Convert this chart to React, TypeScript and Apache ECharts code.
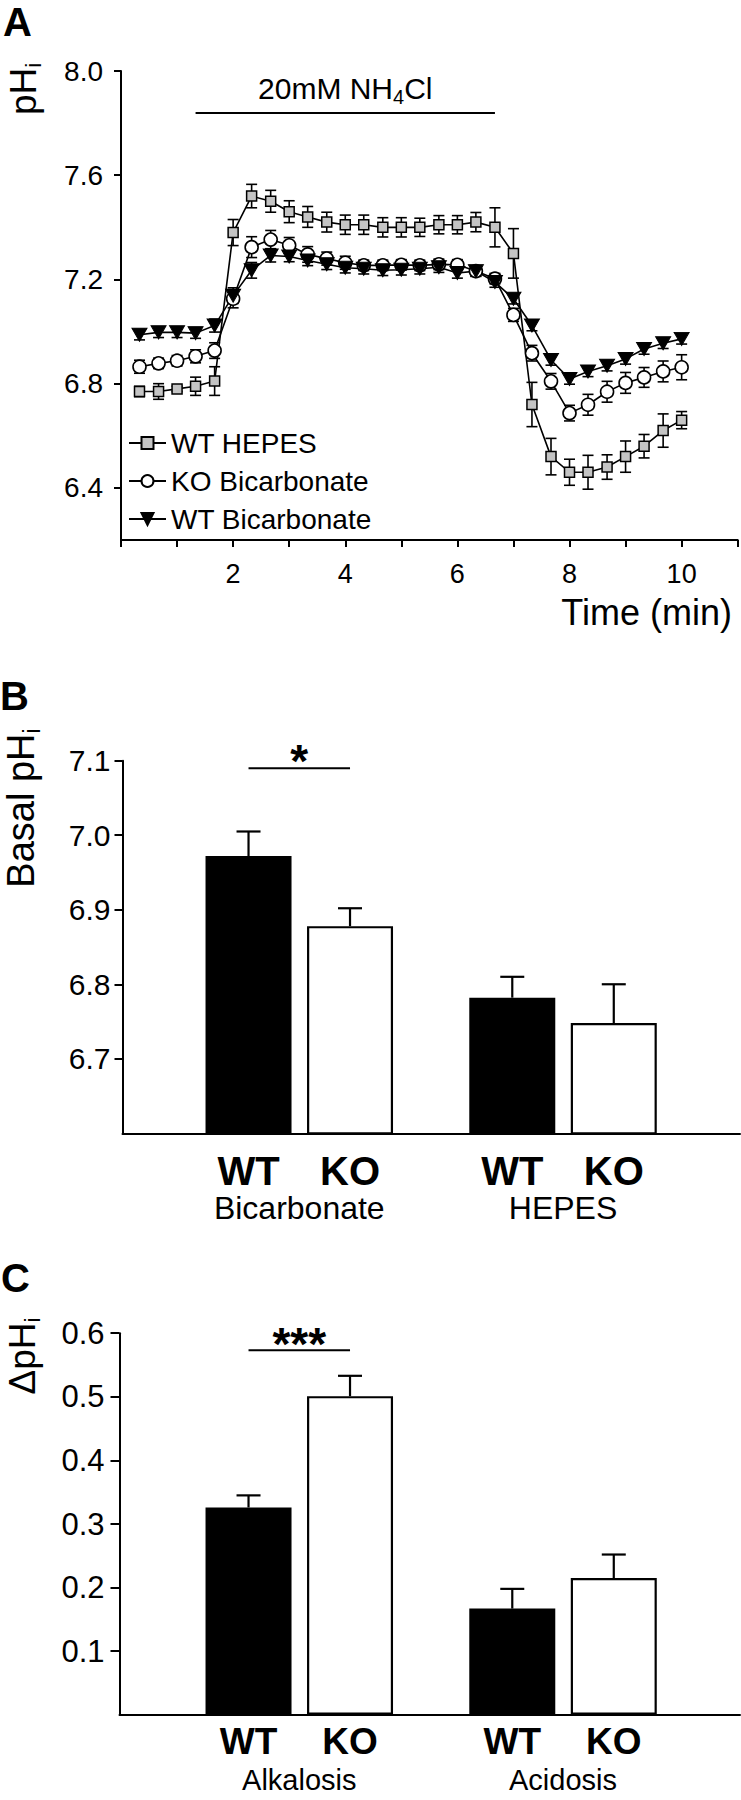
import React, { useEffect, useRef } from 'react';
import * as echarts from 'echarts';

const FONT = '"Liberation Sans", Arial, Helvetica, sans-serif';

// ---------------- Panel A data ----------------
const TIME_MIN = [0.33, 0.67, 1.0, 1.33, 1.67, 2.0, 2.33, 2.67, 3.0, 3.33, 3.67, 4.0, 4.33, 4.67, 5.0, 5.33, 5.67, 6.0, 6.33, 6.67, 7.0, 7.33, 7.67, 8.0, 8.33, 8.67, 9.0, 9.33, 9.67, 10.0];
const WT_HEPES = [6.77, 6.77, 6.78, 6.79, 6.81, 7.38, 7.52, 7.5, 7.46, 7.44, 7.42, 7.41, 7.41, 7.4, 7.4, 7.4, 7.41, 7.41, 7.42, 7.4, 7.3, 6.72, 6.52, 6.46, 6.46, 6.48, 6.52, 6.56, 6.62, 6.66];
const WT_HEPES_ERR = [0.02, 0.03, 0.01, 0.035, 0.055, 0.05, 0.045, 0.042, 0.042, 0.04, 0.038, 0.037, 0.037, 0.037, 0.037, 0.035, 0.035, 0.035, 0.037, 0.075, 0.095, 0.085, 0.07, 0.05, 0.065, 0.047, 0.06, 0.045, 0.064, 0.033];
const KO_BIC = [6.865, 6.878, 6.888, 6.905, 6.927, 7.126, 7.324, 7.353, 7.331, 7.296, 7.28, 7.264, 7.254, 7.254, 7.256, 7.254, 7.258, 7.256, 7.232, 7.203, 7.064, 6.917, 6.809, 6.687, 6.719, 6.769, 6.803, 6.824, 6.847, 6.863];
const KO_BIC_ERR = [0.025, 0.02, 0.02, 0.025, 0.03, 0.035, 0.04, 0.035, 0.03, 0.03, 0.025, 0.025, 0.02, 0.02, 0.02, 0.02, 0.02, 0.02, 0.02, 0.02, 0.025, 0.03, 0.03, 0.03, 0.04, 0.04, 0.04, 0.038, 0.04, 0.048];
const WT_BIC = [6.988, 6.997, 6.997, 6.994, 7.023, 7.138, 7.235, 7.292, 7.288, 7.273, 7.258, 7.245, 7.241, 7.235, 7.237, 7.241, 7.247, 7.225, 7.232, 7.19, 7.126, 7.023, 6.891, 6.818, 6.847, 6.869, 6.895, 6.933, 6.955, 6.972];
const WT_BIC_ERR = [0.02, 0.02, 0.02, 0.02, 0.025, 0.03, 0.03, 0.025, 0.02, 0.02, 0.02, 0.02, 0.02, 0.02, 0.02, 0.02, 0.02, 0.02, 0.02, 0.02, 0.02, 0.02, 0.02, 0.02, 0.02, 0.02, 0.02, 0.02, 0.02, 0.02];
const A_SERIES_NAMES = ['WT HEPES', 'KO Bicarbonate', 'WT Bicarbonate'];
const A_X_MIN = 0;
const A_X_MAX = 11;
const A_Y_MIN = 6.2;
const A_Y_MAX = 8.0;
const A_Y_TICKS = [6.4, 6.8, 7.2, 7.6, 8.0];
const NH4_START = 1.33;
const NH4_END = 6.67;
const NH4_LEVEL = 7.84;

// ---------------- Panel B data ----------------
const B_GROUPS = ['Bicarbonate', 'HEPES'];
const B_WT = [6.972, 6.782];
const B_WT_ERR = [0.033, 0.028];
const B_KO = [6.878, 6.748];
const B_KO_ERR = [0.024, 0.052];
const B_Y_MIN = 6.6;
const B_Y_MAX = 7.1;
const B_Y_TICKS = [6.7, 6.8, 6.9, 7.0, 7.1];
const B_SIG_LEVEL = 7.09;
const B_SIG_TEXT = '*';

// ---------------- Panel C data ----------------
const C_GROUPS = ['Alkalosis', 'Acidosis'];
const C_WT = [0.326, 0.167];
const C_WT_ERR = [0.019, 0.031];
const C_KO = [0.501, 0.215];
const C_KO_ERR = [0.032, 0.037];
const C_Y_MIN = 0;
const C_Y_MAX = 0.6;
const C_Y_TICKS = [0.1, 0.2, 0.3, 0.4, 0.5, 0.6];
const C_SIG_LEVEL = 0.573;
const C_SIG_TEXT = '***';

const BAR_NAMES = ['WT', 'KO'];

// ---------------- styling constants ----------------
const BAR_W = 86;
const BAR_GAP_PX = 15.5;
const BAR_OFFSET = (BAR_W + BAR_GAP_PX) / 2;

export default function App() {
  const ref = useRef<HTMLDivElement>(null);

  useEffect(() => {
    if (!ref.current) return;
    const chart = echarts.init(ref.current, undefined, { renderer: 'svg' });

    const errSeriesA = (vals: number[], errs: number[]) => ({
      type: 'custom',
      xAxisIndex: 0,
      yAxisIndex: 0,
      z: 1,
      silent: true,
      encode: { x: 0, y: 1 },
      data: TIME_MIN.map((t, i) => [t, vals[i], errs[i]]),
      renderItem: (params: any, api: any) => {
        const x = api.value(0);
        const m = api.value(1);
        const e = api.value(2);
        const lo = api.coord([x, m - e]);
        const hi = api.coord([x, m + e]);
        const w = 5.5;
        const st = { stroke: '#000', lineWidth: 1.6 };
        return {
          type: 'group',
          children: [
            { type: 'line', shape: { x1: lo[0], y1: lo[1], x2: hi[0], y2: hi[1] }, style: st },
            { type: 'line', shape: { x1: lo[0] - w, y1: lo[1], x2: lo[0] + w, y2: lo[1] }, style: st },
            { type: 'line', shape: { x1: hi[0] - w, y1: hi[1], x2: hi[0] + w, y2: hi[1] }, style: st },
          ],
        };
      },
    });

    const barErr = (xi: number, yi: number, vals: number[], errs: number[], sign: number) => ({
      type: 'custom',
      xAxisIndex: xi,
      yAxisIndex: yi,
      z: 5,
      silent: true,
      encode: { x: 0, y: 1 },
      data: vals.map((v, i) => [i, v, errs[i]]),
      renderItem: (params: any, api: any) => {
        const c = api.value(0);
        const v = api.value(1);
        const e = api.value(2);
        const p0 = api.coord([c, v]);
        const p1 = api.coord([c, v + e]);
        const x = p0[0] + sign * BAR_OFFSET;
        const w = 12;
        const st = { stroke: '#000', lineWidth: 2.2 };
        return {
          type: 'group',
          children: [
            { type: 'line', shape: { x1: x, y1: p0[1], x2: x, y2: p1[1] }, style: st },
            { type: 'line', shape: { x1: x - w, y1: p1[1], x2: x + w, y2: p1[1] }, style: st },
          ],
        };
      },
    });

    const sigSeries = (xi: number, yi: number, level: number, text: string, dy: number) => ({
      type: 'custom',
      xAxisIndex: xi,
      yAxisIndex: yi,
      z: 5,
      silent: true,
      encode: { x: 0, y: 1 },
      data: [[0, level]],
      renderItem: (params: any, api: any) => {
        const p = api.coord([api.value(0), api.value(1)]);
        return {
          type: 'group',
          children: [
            {
              type: 'line',
              shape: { x1: p[0] - BAR_OFFSET, y1: p[1], x2: p[0] + BAR_OFFSET, y2: p[1] },
              style: { stroke: '#000', lineWidth: 2 },
            },
            {
              type: 'text',
              x: p[0],
              y: p[1] - dy,
              style: {
                text,
                fill: '#000',
                fontSize: 46,
                fontWeight: 'bold',
                fontFamily: FONT,
                align: 'center',
                verticalAlign: 'middle',
              },
            },
          ],
        };
      },
    });

    const catLabel = (margin: number, fs1: number, lh1: number, fs2: number, lh2: number) => ({
      interval: 0,
      margin,
      color: '#000',
      fontFamily: FONT,
      formatter: (v: string) => `{wt|${BAR_NAMES[0]}}{ko|${BAR_NAMES[1]}}\n{g|${v}}`,
      rich: {
        wt: { width: BAR_OFFSET * 2, align: 'center', fontSize: fs1, fontWeight: 'bold', lineHeight: lh1, fontFamily: FONT, color: '#000' },
        ko: { width: BAR_OFFSET * 2, align: 'center', fontSize: fs1, fontWeight: 'bold', lineHeight: lh1, fontFamily: FONT, color: '#000' },
        g: { fontSize: fs2, lineHeight: lh2, fontFamily: FONT, color: '#000' },
      },
    });

    const axisLine = { show: true, onZero: false, lineStyle: { color: '#000', width: 2 } };

    const sub = (fs: number) => ({
      n: { fontSize: fs, fontFamily: FONT, color: '#000', lineHeight: fs + 6 },
      s: { fontSize: Math.round(fs * 0.6), fontFamily: FONT, color: '#000', verticalAlign: 'bottom', lineHeight: Math.round(fs * 0.6) },
    });

    const option: any = {
      animation: false,
      backgroundColor: '#fff',
      textStyle: { fontFamily: FONT },
      grid: [
        { left: 121, top: 71, width: 616.7, height: 469, outerBoundsMode: 'none' },
        { left: 122.5, top: 760.7, width: 617.5, height: 372.6, outerBoundsMode: 'none' },
        { left: 167.4, top: 760.7, width: 527.5, height: 372.6, outerBoundsMode: 'none' },
        { left: 119.5, top: 1333.2, width: 620.5, height: 381.6, outerBoundsMode: 'none' },
        { left: 167.4, top: 1333.2, width: 527.5, height: 381.6, outerBoundsMode: 'none' },
      ],
      xAxis: [
        {
          gridIndex: 0,
          type: 'value',
          min: A_X_MIN,
          max: A_X_MAX,
          interval: 1,
          axisLine,
          axisTick: { show: true, length: 7, lineStyle: { color: '#000', width: 2 } },
          axisLabel: {
            margin: 20,
            fontSize: 27,
            color: '#000',
            fontFamily: FONT,
            formatter: (v: number) => (v > 0 && v % 2 === 0 ? String(v) : ''),
          },
          splitLine: { show: false },
        },
        {
          gridIndex: 1, type: 'value', min: 0, max: 1, axisLine,
          axisTick: { show: false }, axisLabel: { show: false }, splitLine: { show: false },
        },
        {
          gridIndex: 2, type: 'category', data: B_GROUPS, axisLine: { show: false },
          axisTick: { show: false }, axisLabel: catLabel(18, 40, 40, 32, 34), splitLine: { show: false },
        },
        {
          gridIndex: 3, type: 'value', min: 0, max: 1, axisLine,
          axisTick: { show: false }, axisLabel: { show: false }, splitLine: { show: false },
        },
        {
          gridIndex: 4, type: 'category', data: C_GROUPS, axisLine: { show: false },
          axisTick: { show: false }, axisLabel: catLabel(6, 37, 42, 29, 34), splitLine: { show: false },
        },
      ],
      yAxis: [
        {
          gridIndex: 0,
          type: 'value',
          min: A_Y_MIN,
          max: A_Y_MAX,
          axisLine,
          axisTick: { show: true, length: 7, customValues: A_Y_TICKS, lineStyle: { color: '#000', width: 2 } },
          axisLabel: {
            customValues: A_Y_TICKS,
            margin: 18,
            fontSize: 28,
            color: '#000',
            fontFamily: FONT,
            formatter: (v: number) => v.toFixed(1),
          },
          splitLine: { show: false },
        },
        {
          gridIndex: 1,
          type: 'value',
          min: B_Y_MIN,
          max: B_Y_MAX,
          axisLine,
          axisTick: { show: true, length: 8, customValues: B_Y_TICKS, lineStyle: { color: '#000', width: 2 } },
          axisLabel: {
            customValues: B_Y_TICKS,
            margin: 12,
            fontSize: 30,
            color: '#000',
            fontFamily: FONT,
            formatter: (v: number) => v.toFixed(1),
          },
          splitLine: { show: false },
        },
        { gridIndex: 2, type: 'value', min: B_Y_MIN, max: B_Y_MAX, show: false, splitLine: { show: false } },
        {
          gridIndex: 3,
          type: 'value',
          min: C_Y_MIN,
          max: C_Y_MAX,
          axisLine,
          axisTick: { show: true, length: 9, customValues: C_Y_TICKS, lineStyle: { color: '#000', width: 2 } },
          axisLabel: {
            customValues: C_Y_TICKS,
            margin: 15,
            fontSize: 31,
            color: '#000',
            fontFamily: FONT,
            formatter: (v: number) => v.toFixed(1),
          },
          splitLine: { show: false },
        },
        { gridIndex: 4, type: 'value', min: C_Y_MIN, max: C_Y_MAX, show: false, splitLine: { show: false } },
      ],
      legend: {
        data: A_SERIES_NAMES,
        orient: 'vertical',
        left: 128,
        top: 429,
        padding: 0,
        itemWidth: 37,
        itemHeight: 15,
        itemGap: 10,
        selectedMode: false,
        textStyle: { fontSize: 28, color: '#000', fontFamily: FONT },
      },
      graphic: [
        { type: 'text', x: 3, y: 22, style: { text: 'A', fontSize: 40, fontWeight: 'bold', fontFamily: FONT, fill: '#000', align: 'left', verticalAlign: 'middle' } },
        { type: 'text', x: 0, y: 696, style: { text: 'B', fontSize: 40, fontWeight: 'bold', fontFamily: FONT, fill: '#000', align: 'left', verticalAlign: 'middle' } },
        { type: 'text', x: 1, y: 1278, style: { text: 'C', fontSize: 40, fontWeight: 'bold', fontFamily: FONT, fill: '#000', align: 'left', verticalAlign: 'middle' } },
        {
          type: 'text', x: 23, y: 89, rotation: Math.PI / 2,
          style: { text: '{n|pH}{s|i}', rich: sub(37), align: 'center', verticalAlign: 'middle' },
        },
        {
          type: 'text', x: 21, y: 808, rotation: Math.PI / 2,
          style: { text: '{n|Basal pH}{s|i}', rich: sub(38), align: 'center', verticalAlign: 'middle' },
        },
        {
          type: 'text', x: 22, y: 1356, rotation: Math.PI / 2,
          style: { text: '{n|ΔpH}{s|i}', rich: sub(37), align: 'center', verticalAlign: 'middle' },
        },
        {
          type: 'text', x: 732, y: 612.5,
          style: { text: 'Time (min)', fontSize: 36, fontFamily: FONT, fill: '#000', align: 'right', verticalAlign: 'middle' },
        },
      ],
      series: [
        errSeriesA(WT_HEPES, WT_HEPES_ERR),
        errSeriesA(KO_BIC, KO_BIC_ERR),
        errSeriesA(WT_BIC, WT_BIC_ERR),
        {
          name: A_SERIES_NAMES[0],
          type: 'line',
          xAxisIndex: 0,
          yAxisIndex: 0,
          z: 3,
          data: TIME_MIN.map((t, i) => [t, WT_HEPES[i]]),
          symbol: 'rect',
          symbolSize: 10,
          showAllSymbol: true,
          lineStyle: { color: '#000', width: 1.6 },
          itemStyle: { color: '#c4c4c4', borderColor: '#000', borderWidth: 1.5 },
          markLine: {
            silent: true,
            symbol: ['none', 'none'],
            lineStyle: { color: '#000', width: 2, type: 'solid' },
            label: {
              show: true,
              position: 'insideMiddleTop',
              distance: 6,
              formatter: '{n|20mM NH}{s|4}{n|Cl}',
              rich: {
                n: { fontSize: 30, fontFamily: FONT, color: '#000', lineHeight: 36 },
                s: { fontSize: 20, fontFamily: FONT, color: '#000', verticalAlign: 'bottom', lineHeight: 20 },
              },
            },
            data: [[{ coord: [NH4_START, NH4_LEVEL] }, { coord: [NH4_END, NH4_LEVEL] }]],
          },
        },
        {
          name: A_SERIES_NAMES[1],
          type: 'line',
          xAxisIndex: 0,
          yAxisIndex: 0,
          z: 3,
          data: TIME_MIN.map((t, i) => [t, KO_BIC[i]]),
          symbol: 'circle',
          symbolSize: 13,
          showAllSymbol: true,
          lineStyle: { color: '#000', width: 1.6 },
          itemStyle: { color: '#fff', borderColor: '#000', borderWidth: 1.6 },
        },
        {
          name: A_SERIES_NAMES[2],
          type: 'line',
          xAxisIndex: 0,
          yAxisIndex: 0,
          z: 3,
          data: TIME_MIN.map((t, i) => [t, WT_BIC[i]]),
          symbol: 'triangle',
          symbolRotate: 180,
          symbolSize: [15, 13],
          showAllSymbol: true,
          lineStyle: { color: '#000', width: 1.6 },
          itemStyle: { color: '#000', borderColor: '#000', borderWidth: 1 },
        },
        // Panel B bars
        {
          name: 'B WT', type: 'bar', xAxisIndex: 2, yAxisIndex: 2, data: B_WT,
          barWidth: BAR_W, barGap: `${(BAR_GAP_PX / BAR_W) * 100}%`,
          itemStyle: { color: '#000' },
        },
        {
          name: 'B KO', type: 'bar', xAxisIndex: 2, yAxisIndex: 2, data: B_KO,
          barWidth: BAR_W, barGap: `${(BAR_GAP_PX / BAR_W) * 100}%`,
          itemStyle: { color: '#fff', borderColor: '#000', borderWidth: 2.2 },
        },
        barErr(2, 2, B_WT, B_WT_ERR, -1),
        barErr(2, 2, B_KO, B_KO_ERR, 1),
        sigSeries(2, 2, B_SIG_LEVEL, B_SIG_TEXT, 7),
        // Panel C bars
        {
          name: 'C WT', type: 'bar', xAxisIndex: 4, yAxisIndex: 4, data: C_WT,
          barWidth: BAR_W, barGap: `${(BAR_GAP_PX / BAR_W) * 100}%`,
          itemStyle: { color: '#000' },
        },
        {
          name: 'C KO', type: 'bar', xAxisIndex: 4, yAxisIndex: 4, data: C_KO,
          barWidth: BAR_W, barGap: `${(BAR_GAP_PX / BAR_W) * 100}%`,
          itemStyle: { color: '#fff', borderColor: '#000', borderWidth: 2.2 },
        },
        barErr(4, 4, C_WT, C_WT_ERR, -1),
        barErr(4, 4, C_KO, C_KO_ERR, 1),
        sigSeries(4, 4, C_SIG_LEVEL, C_SIG_TEXT, 6),
      ],
    };

    chart.setOption(option);
    return () => chart.dispose();
  }, []);

  return (
    <div
      ref={ref}
      style={{ position: 'absolute', left: 0, top: 0, width: 741, height: 1800, background: '#fff' }}
    />
  );
}
